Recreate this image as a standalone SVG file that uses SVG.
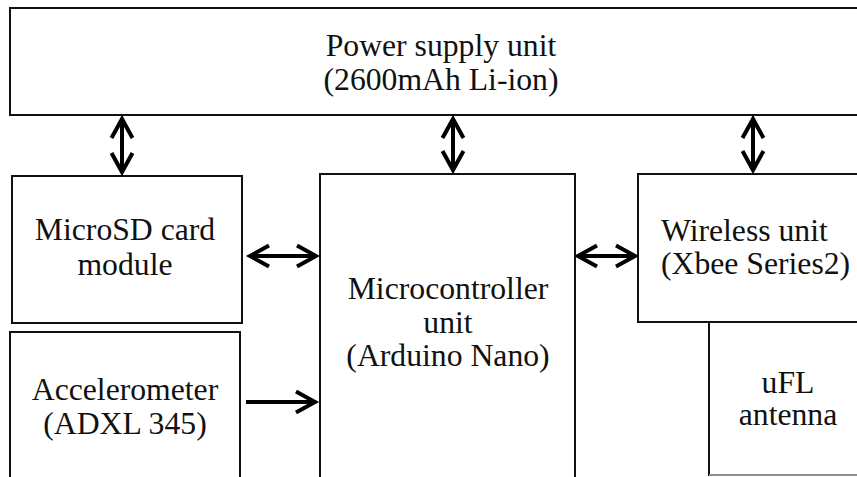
<svg xmlns="http://www.w3.org/2000/svg" width="857" height="477" viewBox="0 0 857 477">
<style>
.box{fill:#fff;stroke:#111;stroke-width:2}
.t{font-size:31.7px;fill:#111;text-anchor:middle}
.c{stroke:#000;stroke-width:4;fill:none}
</style>
<defs>
<marker id="ah" markerUnits="userSpaceOnUse" markerWidth="30" markerHeight="30" viewBox="-24 -15 30 30" refX="0" refY="0" orient="auto-start-reverse">
<path d="M-19,-10.5 L0,0 L-19,10.5" fill="none" stroke="#000" stroke-width="4" stroke-linejoin="miter"/>
</marker>
</defs>
<rect width="857" height="477" fill="#fff"/>
<g font-family="Liberation Serif, Times New Roman, DejaVu Serif, serif">
<g id="power">
<rect class="box" x="10" y="8" width="860" height="107"/>
<text class="t" x="441" y="56">Power supply unit</text>
<text class="t" x="441" y="90">(2600mAh Li-ion)</text>
</g>
<g id="microsd">
<rect class="box" x="12" y="176" width="230" height="147"/>
<text class="t" x="125" y="240">MicroSD card</text>
<text class="t" x="125" y="275">module</text>
</g>
<g id="accel">
<rect class="box" x="10" y="332" width="230" height="160"/>
<text class="t" x="125" y="400">Accelerometer</text>
<text class="t" x="125" y="434">(ADXL 345)</text>
</g>
<g id="mcu">
<rect class="box" x="320" y="174" width="255" height="320"/>
<text class="t" x="448" y="299">Microcontroller</text>
<text class="t" x="448" y="333">unit</text>
<text class="t" x="448" y="366">(Arduino Nano)</text>
</g>
<g id="wireless">
<rect class="box" x="638" y="174" width="230" height="148"/>
<text class="t" x="661" y="241" style="text-anchor:start">Wireless unit</text>
<text class="t" x="661" y="274" style="text-anchor:start">(Xbee Series2)</text>
</g>
<g id="antenna">
<path d="M709,322 V475 H870" fill="#fff" stroke="#111" stroke-width="2"/>
<path d="M709,475 H870" stroke="#bbb" stroke-width="1.5"/>
<text class="t" x="788" y="393">uFL</text>
<text class="t" x="788" y="425">antenna</text>
</g>
</g>
<g id="connectors">
<line class="c" x1="122" y1="119" x2="122" y2="172" marker-start="url(#ah)" marker-end="url(#ah)"/>
<line class="c" x1="453" y1="119" x2="453" y2="170" marker-start="url(#ah)" marker-end="url(#ah)"/>
<line class="c" x1="753" y1="119" x2="753" y2="170" marker-start="url(#ah)" marker-end="url(#ah)"/>
<line class="c" x1="250" y1="256" x2="316" y2="256" marker-start="url(#ah)" marker-end="url(#ah)"/>
<line class="c" x1="578" y1="256" x2="635" y2="256" marker-start="url(#ah)" marker-end="url(#ah)"/>
<line class="c" x1="246" y1="402" x2="315" y2="402" marker-end="url(#ah)"/>
</g>
</svg>
